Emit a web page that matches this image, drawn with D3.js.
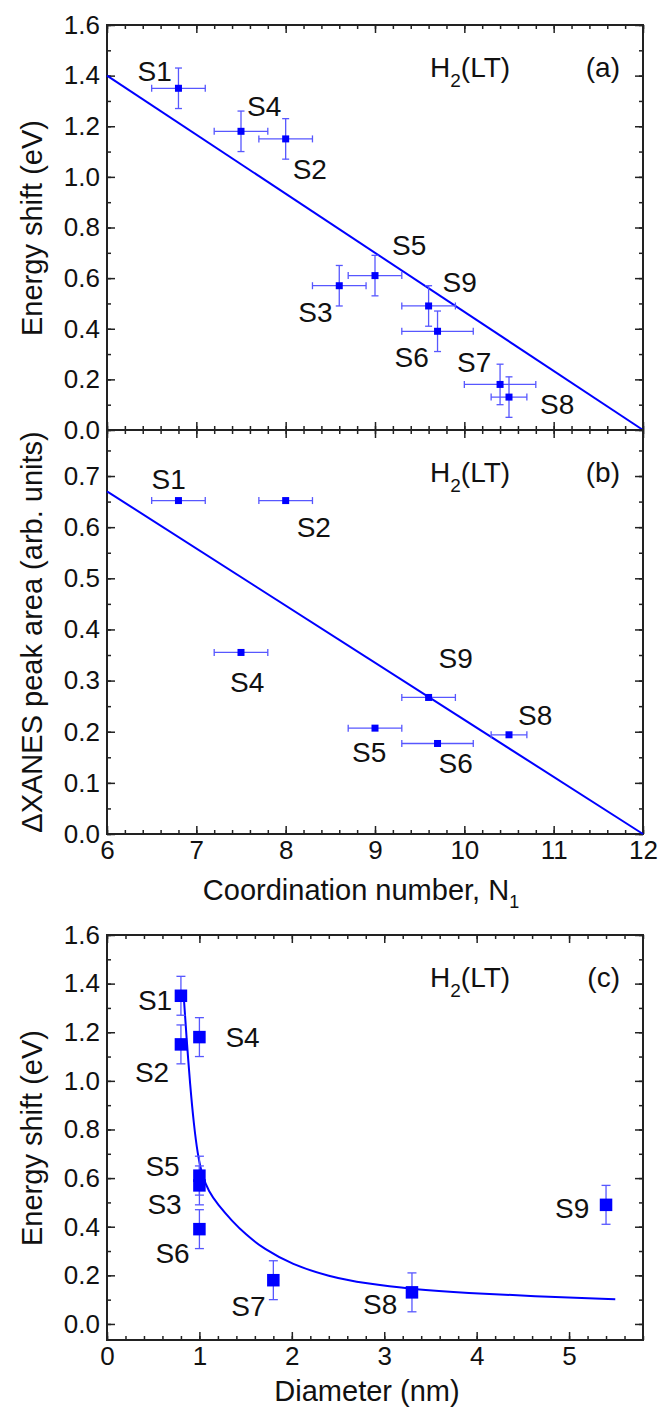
<!DOCTYPE html>
<html>
<head>
<meta charset="utf-8">
<script src="https://cdn.jsdelivr.net/npm/d3@7"></script>
<style>
  body { margin: 0; background: #fff; }
  svg text { font-family: "Liberation Sans", Arial, sans-serif; fill: #111; }
</style>
</head>
<body>
<div class="chart"></div>
<script>
// samples S1..S9
const samples     = ["S1", "S2", "S3", "S4", "S5", "S6", "S7", "S8", "S9"];
const coordN      = [6.8, 8.0, 8.6, 7.5, 9.0, 9.7, 10.4, 10.5, 9.6];
const coordNErr   = [0.3, 0.3, 0.3, 0.3, 0.3, 0.4, 0.4, 0.2, 0.3];
const energyShift = [1.35, 1.15, 0.57, 1.18, 0.61, 0.39, 0.18, 0.13, 0.49];
const energyErr   = [0.08, 0.08, 0.08, 0.08, 0.08, 0.08, 0.08, 0.08, 0.08];
const diameter    = [0.8, 0.8, 1.0, 1.0, 1.0, 1.0, 1.8, 3.3, 5.4];

// panel (b) only has 7 samples
const areaSamples = ["S1", "S2", "S4", "S5", "S6", "S8", "S9"];
const areaN       = [6.8, 8.0, 7.5, 9.0, 9.7, 10.5, 9.6];
const areaNErr    = [0.3, 0.3, 0.3, 0.3, 0.4, 0.2, 0.3];
const peakArea    = [0.652, 0.652, 0.355, 0.207, 0.177, 0.194, 0.267];

// fitted lines
const fitN         = [6, 12];
const fitShiftN    = [1.4, 0];
const fitAreaN     = [0.67, 0];
const fitDiam      = [0.83, 0.86, 0.90, 0.94, 0.98, 1.03, 1.1, 1.2, 1.35, 1.5, 1.7, 2.0, 2.4, 2.8, 3.3, 3.9, 4.6, 5.5];
const fitDiamShift = [1.35, 1.18, 0.98, 0.82, 0.70, 0.61, 0.545, 0.49, 0.425, 0.368, 0.308, 0.245, 0.195, 0.166, 0.143, 0.127, 0.114, 0.102];

// label offsets (px from the marker: text left, baseline)
const labelOffA = {S1: [-41, -7], S2: [7, 40], S3: [-41, 36], S4: [6, -15], S5: [17, -21],
                   S6: [-43, 36], S7: [-43, -12], S8: [31, 17], S9: [14, -14]};
const labelOffB = {S1: [-27, -12], S2: [11, 36], S4: [-11, 40], S5: [-23, 34], S6: [1, 30],
                   S8: [9, -10], S9: [10, -29]};
const labelOffC = {S1: [-43, 14], S2: [-46, 38], S3: [-52, 29], S4: [26, 10], S5: [-54, 0],
                   S6: [-44, 34], S7: [-42, 36], S8: [-49, 22], S9: [-51, 13]};

const blue = "#0000ff", errColor = "#5757ff";
const W = 662, H = 1408;

var svg = d3.select(".chart").append("svg")
    .attr("width", W)
    .attr("height", H);

// scales
var xN  = d3.scaleLinear().domain([6, 12]).range([107, 643]);
var yA  = d3.scaleLinear().domain([0, 1.6]).range([430, 25]);
var yB  = d3.scaleLinear().domain([0, 0.79]).range([834, 430]);
var xC  = d3.scaleLinear().domain([0, 5.8]).range([107, 643]);
var yC  = d3.scaleLinear().domain([-0.066, 1.6]).range([1340, 935]);

function range(a, b, step) {
  var out = [];
  for (var v = a; v <= b + 1e-9; v += step) out.push(+v.toFixed(4));
  return out;
}

// draws the four inward-ticked sides of one frame
function frame(x, y, opt) {
  var x0 = x.range()[0], x1 = x.range()[1];
  var y0 = y.range()[0], y1 = y.range()[1];
  var major = 8, minor = 4;
  var sides = [
    {axis: d3.axisBottom, scale: x, pos: "translate(0," + y0 + ")", labels: opt.xLabels, maj: opt.xMajor, min: opt.xMinor, fmt: opt.xFmt},
    {axis: d3.axisTop, scale: x, pos: "translate(0," + y1 + ")", labels: false, maj: opt.xMajor, min: opt.xMinor},
    {axis: d3.axisLeft, scale: y, pos: "translate(" + x0 + ",0)", labels: true, maj: opt.yMajor, min: opt.yMinor, fmt: opt.yFmt},
    {axis: d3.axisRight, scale: y, pos: "translate(" + x1 + ",0)", labels: false, maj: opt.yMajor, min: opt.yMinor}
  ];
  sides.forEach(function(s) {
    var gMin = svg.append("g").attr("transform", s.pos)
        .call(s.axis(s.scale).tickValues(s.min).tickSize(-minor).tickFormat(""));
    gMin.select(".domain").remove();
    var gMaj = svg.append("g").attr("transform", s.pos)
        .call(s.axis(s.scale).tickValues(s.maj).tickSize(-major).tickPadding(7)
          .tickFormat(s.labels ? s.fmt : ""));
    gMaj.select(".domain").remove();
    gMaj.selectAll("text").style("font-size", "26px").style("fill", "#111");
    svg.selectAll("g.tick line").attr("stroke", "#222").attr("stroke-width", 1.5);
  });
  svg.append("rect")
      .attr("x", x0).attr("y", y1)
      .attr("width", x1 - x0).attr("height", y0 - y1)
      .style("fill", "none").style("stroke", "#222").style("stroke-width", 2);
}

function errorBars(xs, ys, xerr, yerr, x, y, cap) {
  var g = svg.append("g").style("stroke", errColor).style("stroke-width", 1.3);
  xs.forEach(function(v, i) {
    if (xerr) {
      var a = x(v - xerr[i]), b = x(v + xerr[i]), cy = y(ys[i]);
      g.append("line").attr("x1", a).attr("x2", b).attr("y1", cy).attr("y2", cy);
      g.append("line").attr("x1", a).attr("x2", a).attr("y1", cy - cap).attr("y2", cy + cap);
      g.append("line").attr("x1", b).attr("x2", b).attr("y1", cy - cap).attr("y2", cy + cap);
    }
    if (yerr) {
      var c = y(ys[i] - yerr[i]), d = y(ys[i] + yerr[i]), cx = x(v);
      g.append("line").attr("x1", cx).attr("x2", cx).attr("y1", c).attr("y2", d);
      g.append("line").attr("x1", cx - cap).attr("x2", cx + cap).attr("y1", c).attr("y2", c);
      g.append("line").attr("x1", cx - cap).attr("x2", cx + cap).attr("y1", d).attr("y2", d);
    }
  });
}

function markers(xs, ys, names, x, y, size, offs) {
  xs.forEach(function(v, i) {
    svg.append("rect")
        .attr("x", x(v) - size / 2).attr("y", y(ys[i]) - size / 2)
        .attr("width", size).attr("height", size)
        .style("fill", blue);
    var o = offs[names[i]];
    svg.append("text")
        .attr("x", x(v) + o[0]).attr("y", y(ys[i]) + o[1])
        .style("font-size", "28px")
        .text(names[i]);
  });
}

function fitLine(xs, ys, x, y, curve) {
  var line = d3.line()
      .x(function(d) { return x(d[0]); })
      .y(function(d) { return y(d[1]); })
      .curve(curve || d3.curveLinear);
  svg.append("path")
      .datum(d3.zip(xs, ys))
      .attr("d", line)
      .style("fill", "none")
      .style("stroke", blue)
      .style("stroke-width", 2);
}

function header(baseY, tag) {
  var t = svg.append("text").attr("x", 430).attr("y", baseY).style("font-size", "28px");
  t.append("tspan").text("H");
  t.append("tspan").attr("dy", 10).style("font-size", "19px").text("2");
  t.append("tspan").attr("dy", -10).text("(LT)");
  svg.append("text").attr("x", 620).attr("y", baseY)
      .attr("text-anchor", "end").style("font-size", "28px").text(tag);
}

function yTitle(text, cy) {
  svg.append("text")
      .attr("transform", "translate(42," + cy + ") rotate(-90)")
      .attr("text-anchor", "middle")
      .style("font-size", "29px")
      .text(text);
}

var f1 = d3.format(".1f"), fd = d3.format("d");

// ---- panel (a)
frame(xN, yA, {xMajor: range(6, 12, 1), xMinor: range(6, 12, 0.2), xLabels: false,
               yMajor: range(0, 1.6, 0.2), yMinor: range(0, 1.6, 0.1), yFmt: f1});
fitLine(fitN, fitShiftN, xN, yA);
errorBars(coordN, energyShift, coordNErr, energyErr, xN, yA, 3.5);
markers(coordN, energyShift, samples, xN, yA, 7, labelOffA);
header(77, "(a)");
yTitle("Energy shift (eV)", 228);

// ---- panel (b)
frame(xN, yB, {xMajor: range(6, 12, 1), xMinor: range(6, 12, 0.2), xLabels: true, xFmt: fd,
               yMajor: range(0, 0.7, 0.1), yMinor: range(0, 0.75, 0.05), yFmt: f1});
fitLine(fitN, fitAreaN, xN, yB);
errorBars(areaN, peakArea, areaNErr, null, xN, yB, 3.5);
markers(areaN, peakArea, areaSamples, xN, yB, 7, labelOffB);
header(482, "(b)");
yTitle("\u0394XANES peak area (arb. units)", 632);

var tx = svg.append("text").attr("x", 361).attr("y", 900)
    .attr("text-anchor", "middle").style("font-size", "29px");
tx.append("tspan").text("Coordination number, N");
tx.append("tspan").attr("dy", 8).style("font-size", "18px").text("1");

// ---- panel (c)
frame(xC, yC, {xMajor: range(0, 5, 1), xMinor: range(0, 5.8, 0.2), xLabels: true, xFmt: fd,
               yMajor: range(0, 1.6, 0.2), yMinor: range(0, 1.6, 0.1), yFmt: f1});
fitLine(fitDiam, fitDiamShift, xC, yC, d3.curveBasis);
errorBars(diameter, energyShift, null, energyErr, xC, yC, 4.5);
markers(diameter, energyShift, samples, xC, yC, 12.5, labelOffC);
header(987, "(c)");
yTitle("Energy shift (eV)", 1138);

svg.append("text").attr("x", 367).attr("y", 1401)
    .attr("text-anchor", "middle").style("font-size", "29px")
    .text("Diameter (nm)");
</script>
</body>
</html>
